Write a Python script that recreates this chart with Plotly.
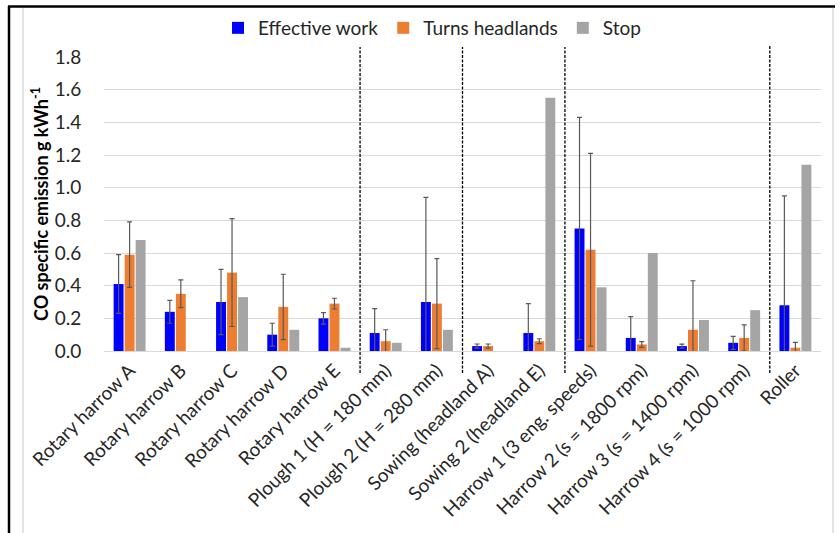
import plotly.graph_objects as go

categories = [
    "Rotary harrow A", "Rotary harrow B", "Rotary harrow C", "Rotary harrow D",
    "Rotary harrow E", "Plough 1 (H = 180 mm)", "Plough 2 (H = 280 mm)",
    "Sowing (headland A)", "Sowing 2 (headland E)", "Harrow 1 (3 eng. speeds)",
    "Harrow 2 (s = 1800 rpm)", "Harrow 3 (s = 1400 rpm)", "Harrow 4 (s = 1000 rpm)",
    "Roller",
]
effective_work = [0.41, 0.24, 0.30, 0.10, 0.20, 0.11, 0.30, 0.03, 0.11, 0.75, 0.08, 0.03, 0.05, 0.28]
effective_work_err = [0.18, 0.07, 0.20, 0.07, 0.035, 0.15, 0.64, 0.013, 0.18, 0.68, 0.13, 0.012, 0.04, 0.67]
turns_headlands = [0.59, 0.35, 0.48, 0.27, 0.29, 0.06, 0.29, 0.03, 0.06, 0.62, 0.04, 0.13, 0.08, 0.02]
turns_headlands_err = [0.20, 0.085, 0.33, 0.20, 0.033, 0.07, 0.275, 0.013, 0.015, 0.59, 0.018, 0.30, 0.08, 0.033]
stop = [0.68, None, 0.33, 0.13, 0.02, 0.05, 0.13, None, 1.55, 0.39, 0.60, 0.19, 0.25, 1.14]
divider_after = ["Rotary harrow E", "Plough 2 (H = 280 mm)",
                 "Sowing 2 (headland E)", "Harrow 4 (s = 1000 rpm)"]
y_ticks = [0.0, 0.2, 0.4, 0.6, 0.8, 1.0, 1.2, 1.4, 1.6, 1.8]

W, H = 840, 533
ML, MR, MT, MB = 104, 19, 57, 182
PW, PH = W - ML - MR, H - MT - MB


def px_x(px):
    return (px - ML) / PW


def px_y(py):
    return (H - MB - py) / PH


FONT = "Lato"
TXT = "#262626"
ERR = "#595959"

fig = go.Figure()
for name, vals, err, color in [
    ("Effective work", effective_work, effective_work_err, "#0000FF"),
    ("Turns headlands", turns_headlands, turns_headlands_err, "#ED7D31"),
    ("Stop", stop, None, "#A5A5A5"),
]:
    fig.add_trace(go.Bar(
        name=name, x=categories, y=vals, marker=dict(color=color, line=dict(width=0)),
        error_y=(dict(type="data", array=err, visible=True, color=ERR, thickness=1.2, width=2.5)
                 if err else None),
    ))

shapes = []
for c in divider_after:
    xi = categories.index(c) + 0.5
    shapes.append(dict(type="line", xref="x", yref="paper", x0=xi, x1=xi,
                       y0=px_y(373), y1=px_y(45),
                       line=dict(color="black", width=1.3, dash="3px,1.5px")))
# outer frame
shapes.append(dict(type="line", xref="paper", yref="paper", x0=px_x(23), x1=px_x(23),
                   y0=px_y(8), y1=px_y(540), line=dict(color="#d9d9d9", width=1.5)))
shapes.append(dict(type="line", xref="paper", yref="paper", x0=px_x(833), x1=px_x(833),
                   y0=px_y(8), y1=px_y(540), line=dict(color="#d9d9d9", width=1.5)))
shapes.append(dict(type="line", xref="paper", yref="paper", x0=px_x(9), x1=px_x(9),
                   y0=px_y(6), y1=px_y(540), line=dict(color="black", width=2.5)))
shapes.append(dict(type="line", xref="paper", yref="paper", x0=px_x(8), x1=px_x(835),
                   y0=px_y(6.5), y1=px_y(6.5), line=dict(color="black", width=2.5)))

fig.update_layout(
    width=W, height=H, margin=dict(l=ML, r=MR, t=MT, b=MB, autoexpand=False),
    paper_bgcolor="white", plot_bgcolor="white",
    barmode="group", bargap=0.355, bargroupgap=0.1,
    font=dict(family=FONT, size=19, color=TXT),
    legend=dict(orientation="h", x=px_x(432), xanchor="center", y=px_y(28), yanchor="middle",
                font=dict(size=19, color=TXT), itemwidth=30, traceorder="normal"),
    shapes=shapes,
    xaxis=dict(tickangle=-45, showgrid=False, showline=True, linecolor="#d9d9d9", linewidth=1,
               ticks="", tickfont=dict(size=19, color=TXT), automargin=False),
    yaxis=dict(range=[0, 1.8], tickvals=y_ticks, tickformat=".1f", showgrid=True,
               gridcolor="#d9d9d9", gridwidth=1, zeroline=False, showline=False,
               ticks="outside", ticklen=18, tickcolor="rgba(0,0,0,0)", automargin=False,
               tickfont=dict(size=19, color=TXT),
               title=dict(text="<b>CO specific emission g kWh<sup>-1</sup></b>",
                          font=dict(size=18, color="black"), standoff=1)),
)
fig.write_html("out.html", config={"displayModeBar": False},
               post_script="document.body.style.margin='0px';")
